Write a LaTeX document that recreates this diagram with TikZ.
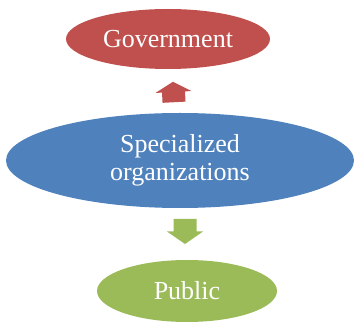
\documentclass[tikz,border=0pt]{standalone}
\usepackage{fontspec}
\setmainfont{Liberation Serif}
\usetikzlibrary{shapes.geometric,calc}

\definecolor{govred}{HTML}{C0504D}
\definecolor{orgblue}{HTML}{4F81BD}
\definecolor{pubgreen}{HTML}{9BBB59}

\tikzset{
  blob/.style={ellipse,inner sep=0pt,text=white,align=center,
    font=\fontsize{26}{28}\selectfont},
  % block arrow pointing down, centred on the origin
  blockarrow/.pic={
    \fill (-11.5,12.5) -- (-11.5,0) -- (-18,0) -- (0,-12.5)
          -- (18,0) -- (11.5,0) -- (11.5,12.5) -- cycle;
  }
}

\begin{document}
\begin{tikzpicture}[x=1pt,y=1pt]
\useasboundingbox (0,0) rectangle (354,324);

\node(gov) at (168,285)[blob,fill=govred,minimum width=204,minimum height=60]{Government};
\node(spec) at (180,163.5)[blob,fill=orgblue,minimum width=348,minimum height=95]{Specialized\\organizations};
\node(pub) at (187,33)[blob,fill=pubgreen,minimum width=180,minimum height=62]{Public};

% arrows sit half way between the ellipses
\coordinate (up) at ($(spec.north)!0.5!(gov.south)+(-0.5,-1)$);
\coordinate (down) at ($(spec.south)!0.5!(pub.north)+(1.5,2.5)$);

\pic[fill=govred,rotate=183,yscale=0.82] at (up) {blockarrow};
\pic[fill=pubgreen] at (down) {blockarrow};

\end{tikzpicture}
\end{document}
